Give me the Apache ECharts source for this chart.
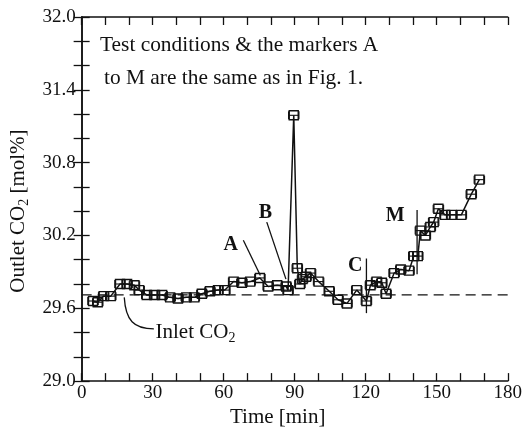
<!DOCTYPE html>
<html>
<head>
<meta charset="utf-8">
<script src="https://cdn.jsdelivr.net/npm/echarts@6/dist/echarts.min.js"></script>
<style>
  html, body { margin: 0; padding: 0; background: #fff; }
  #chart { width: 525px; height: 433px; }
</style>
</head>
<body>
<div id="chart"></div>
<script>
// Outlet CO2 concentration over time
const timeMin = [4.8, 6.8, 9.3, 12.3, 16.2, 19.2, 22.3, 24.3, 27.5, 30.8, 34.0, 37.4, 40.7, 44.2, 47.6,
  50.8, 54.2, 57.6, 60.5, 64.2, 67.7, 71.2, 75.3, 78.8, 82.6, 86.4, 87.2, 89.6, 91.1, 92.2, 93.3,
  94.8, 96.7, 100.1, 104.6, 108.3, 112.1, 116.2, 120.3, 122.0, 124.6, 126.8, 128.6, 132.0, 134.8,
  138.3, 140.3, 142.0, 143.1, 145.2, 147.3, 148.7, 150.7, 153.5, 156.3, 160.4, 164.6, 168.0];
const outletCO2 = [29.66, 29.65, 29.70, 29.70, 29.80, 29.80, 29.79, 29.75, 29.71, 29.71, 29.71, 29.69, 29.68, 29.69, 29.69,
  29.72, 29.74, 29.75, 29.75, 29.82, 29.81, 29.82, 29.85, 29.78, 29.79, 29.78, 29.75, 31.19, 29.93, 29.80, 29.84,
  29.86, 29.89, 29.82, 29.74, 29.67, 29.64, 29.75, 29.66, 29.79, 29.82, 29.81, 29.72, 29.89, 29.92,
  29.91, 30.03, 30.03, 30.24, 30.20, 30.27, 30.31, 30.42, 30.37, 30.37, 30.37, 30.54, 30.66];
const inletCO2 = 29.71;
const timeRange = [0, 180];

const xTickLabels = [0, 30, 60, 90, 120, 150, 180];
const yTickLabels = ['29.0', '29.6', '30.2', '30.8', '31.4', '32.0'];

// marker annotations: label, label point, leader start, leader end
const markerNames = ['A', 'B', 'C', 'M'];
const markerLabelAt = [[63, 30.12], [77.6, 30.39], [115.6, 29.95], [132.5, 30.36]];
const markerLineFrom = [[68.3, 30.16], [78.2, 30.31], [120.3, 30.01], [141.7, 30.41]];
const markerLineTo = [[75.5, 29.87], [86.3, 29.84], [120.3, 29.56], [141.7, 29.88]];

const points = timeMin.map((t, i) => [t, outletCO2[i]]);
const serif = '"Liberation Serif", "DejaVu Serif", serif';
const black = '#111';

const chart = echarts.init(document.getElementById('chart'), null, { renderer: 'canvas' });

const tickStyle = { inside: true, length: 8, lineStyle: { color: black, width: 1.3 } };
const lineStyle = { lineStyle: { color: black, width: 1.5 } };

chart.setOption({
  backgroundColor: '#fff',
  animation: false,
  grid: { left: 79, right: 13, top: 17, bottom: 49, containLabel: false },
  xAxis: [
    {
      type: 'value', min: 0, max: 180, interval: 10, position: 'bottom',
      axisLine: lineStyle, axisTick: tickStyle, splitLine: { show: false },
      axisLabel: {
        color: black, fontFamily: serif, fontSize: 19, margin: 2,
        formatter: v => xTickLabels.includes(v) ? String(v) : ''
      },
      name: 'Time [min]', nameLocation: 'middle', nameGap: 21,
      nameTextStyle: { color: black, fontFamily: serif, fontSize: 21, verticalAlign: 'top', padding: [0, 34, 0, 0] }
    },
    {
      type: 'value', min: 0, max: 180, interval: 10, position: 'top',
      axisLine: lineStyle, axisTick: tickStyle, splitLine: { show: false }, axisLabel: { show: false }
    }
  ],
  yAxis: [
    {
      type: 'value', min: 29.0, max: 32.0, interval: 0.2, position: 'left',
      axisLine: lineStyle, axisTick: tickStyle, splitLine: { show: false },
      axisLabel: {
        color: black, fontFamily: serif, fontSize: 19, margin: 6,
        formatter: v => { const s = v.toFixed(1); return yTickLabels.includes(s) ? s : ''; }
      },
      name: 'Outlet CO{sub|2} [mol%]', nameLocation: 'middle', nameGap: 47, nameRotate: 90,
      nameTextStyle: {
        color: black, fontFamily: serif, fontSize: 21, padding: [0, 24, 0, 0],
        rich: { sub: { fontFamily: serif, fontSize: 14, verticalAlign: 'bottom', padding: [12, 0, 0, 0], color: black } }
      }
    },
    {
      type: 'value', min: 29.0, max: 32.0, interval: 0.2, position: 'right',
      axisLine: lineStyle, axisTick: tickStyle, splitLine: { show: false }, axisLabel: { show: false }
    }
  ],
  graphic: [
    { type: 'text', left: 100, top: 35, style: { text: 'Test conditions & the markers A', font: '21.4px ' + serif, fill: black } },
    { type: 'text', left: 104, top: 68, style: { text: 'to M are the same as in Fig. 1.', font: '21.4px ' + serif, fill: black } }
  ],
  series: [
    {
      // inlet CO2 reference level
      type: 'line', data: timeRange.map(t => [t, inletCO2]), symbol: 'none', silent: true,
      lineStyle: { color: black, width: 1.3, type: [10, 6] }, z: 1
    },
    {
      // horizontal bars on each sample
      type: 'custom', data: points, z: 2, silent: true,
      renderItem: (params, api) => {
        const t = api.value(0), v = api.value(1);
        const a = api.coord([t - 2.2, v]);
        const b = api.coord([t + 2.2, v]);
        const st = { stroke: black, lineWidth: 1.1, fill: null };
        return {
          type: 'group', children: [
            { type: 'line', shape: { x1: a[0], y1: a[1], x2: b[0], y2: b[1] }, style: st },
            { type: 'line', shape: { x1: a[0], y1: a[1] - 4, x2: a[0], y2: a[1] + 4 }, style: st },
            { type: 'line', shape: { x1: b[0], y1: b[1] - 4, x2: b[0], y2: b[1] + 4 }, style: st }
          ]
        };
      }
    },
    {
      type: 'line', data: points, symbol: 'rect', symbolSize: 9, z: 3,
      lineStyle: { color: black, width: 1.5 },
      itemStyle: { color: 'rgba(0,0,0,0)', borderColor: black, borderWidth: 1.4 }
    },
    {
      // marker labels, leader lines and inlet label
      type: 'custom', data: [[0, 0]], z: 4, silent: true,
      renderItem: (params, api) => {
        const children = [];
        markerNames.forEach((name, i) => {
          const p = api.coord(markerLabelAt[i]);
          const f = api.coord(markerLineFrom[i]);
          const e = api.coord(markerLineTo[i]);
          children.push({ type: 'line', shape: { x1: f[0], y1: f[1], x2: e[0], y2: e[1] }, style: { stroke: black, lineWidth: 1.3 } });
          children.push({ type: 'text', x: p[0], y: p[1], style: { text: name, fontFamily: serif, fontSize: 20, fontWeight: 'bold', fill: black, align: 'center', verticalAlign: 'middle' } });
        });
        const s = api.coord([18.0, 29.69]);
        const c1 = api.coord([18.6, 29.50]);
        const c2 = api.coord([22.0, 29.43]);
        const e = api.coord([30.5, 29.43]);
        children.push({ type: 'bezierCurve', shape: { x1: s[0], y1: s[1], cpx1: c1[0], cpy1: c1[1], cpx2: c2[0], cpy2: c2[1], x2: e[0], y2: e[1] }, style: { stroke: black, lineWidth: 1.3, fill: null } });
        const lp = api.coord([31.2, 29.40]);
        children.push({ type: 'text', x: lp[0], y: lp[1], style: {
          text: 'Inlet CO{sub|2}', fontFamily: serif, fontSize: 21, fill: black, align: 'left', verticalAlign: 'middle',
          rich: { sub: { fontFamily: serif, fontSize: 14, fill: black, verticalAlign: 'bottom', padding: [12, 0, 0, 0] } }
        } });
        return { type: 'group', children };
      }
    }
  ]
});
</script>
</body>
</html>
